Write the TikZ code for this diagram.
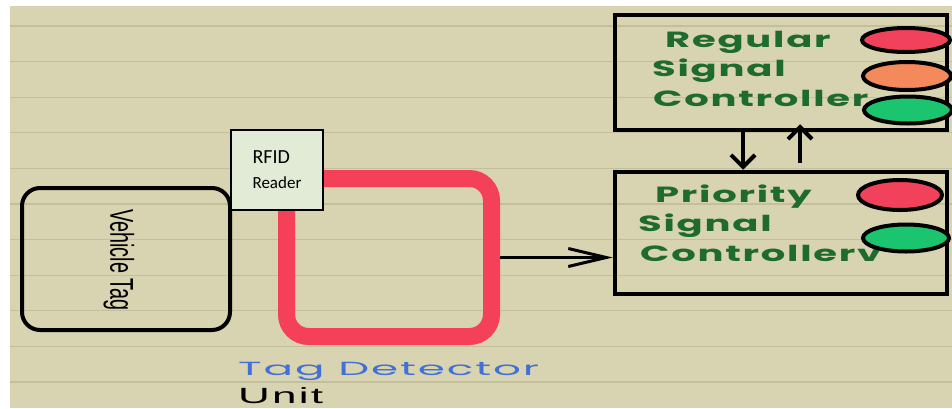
\documentclass[tikz,border=0pt]{standalone}
\usepackage{fontspec}
\usepackage{tikz}
\usetikzlibrary{shapes.geometric, arrows.meta, positioning, calc}
\setmainfont{Liberation Sans}
\newfontfamily\handfont[FakeStretch=1.75,LetterSpace=8]{Poppins}
\newfontfamily\sketchfont[FakeStretch=2.3,LetterSpace=10]{Poppins}
\newfontfamily\narrowfont[FakeStretch=0.6]{Liberation Sans}
\newfontfamily\widefont[FakeStretch=2.0,LetterSpace=10]{Liberation Sans}
\newfontfamily\calfont{Carlito}
\definecolor{paper}{HTML}{D8D3B0}
\definecolor{ruleline}{HTML}{C3BE9B}
\definecolor{loopred}{HTML}{F5405A}
\definecolor{lampred}{HTML}{F2415B}
\definecolor{lamporange}{HTML}{F48A5C}
\definecolor{lampgreen}{HTML}{1BC46F}
\definecolor{signalgreen}{HTML}{1F6B2F}
\definecolor{detblue}{HTML}{4270D6}
\definecolor{readerfill}{HTML}{E2EBD6}

\begin{document}
\begin{tikzpicture}[x=1pt, y=-1pt,
    ctrlbox/.style={draw=black, line width=4.5pt, minimum width=332pt, inner sep=0pt},
    lamp/.style={ellipse, draw=black, line width=4pt, inner sep=0pt},
    signaltext/.style={anchor=base west, inner sep=0pt, text=signalgreen,
      font=\handfont\bfseries\fontsize{22}{24}\selectfont},
    flow/.style={-{Straight Barb[length=12pt,width=24pt]}, line width=4pt}
  ]
    \useasboundingbox (0,0) rectangle (952,408);
    \clip (0,0) rectangle (952,408);
    % Paper with ruled lines
    \fill[white] (0,0) rectangle (952,408);
    \fill[paper] (10,6) rectangle (952,408);
    \foreach \k in {0,...,10} {
      \draw[ruleline, line width=1.2pt] (10,{26+35.6*\k}) -- (952,{26+35.6*\k});
    }
    % Tag side
    \node[draw, line width=4pt, rounded corners=18pt, minimum width=208pt,
      minimum height=142pt] (tagbox) at (126,259) {};
    \node[rotate=-90, inner sep=0pt, font=\narrowfont\fontsize{33}{35}\selectfont]
      (vtag) at (119,260) {Vehicle Tag};
    \node[draw=loopred, line width=17pt, rounded corners=22pt, minimum width=205pt,
      minimum height=158pt] (loop) at (389,257.5) {};
    \node[draw, line width=1.5pt, fill=readerfill, minimum width=92pt, minimum height=80pt,
      align=left, font=\calfont\fontsize{20}{25}\selectfont]
      (rfid) at (277,170) {RFID\\{\fontsize{17}{20}\selectfont Reader}};
    \node[anchor=base west, inner sep=0pt, text=detblue,
      font=\sketchfont\fontsize{19}{22}\selectfont] (detlabel) at (238,375) {Tag Detector};
    \node[anchor=base west, inner sep=0pt, font=\widefont\fontsize{22}{24}\selectfont]
      (unitlabel) at (238,403) {Unit};
    % Controllers
    \node[ctrlbox, minimum height=115pt] (regular) at (781,72.5) {};
    \node[ctrlbox, minimum height=122pt] (prio) at (781,233) {};
    \node[signaltext] (reg1) at (665,47) {Regular};
    \node[signaltext] (reg2) at (652,76) {Signal};
    \node[signaltext] (reg3) at (653,106) {Controller};
    \node[signaltext] (pri1) at (655,202) {Priority};
    \node[signaltext] (pri2) at (638,231) {Signal};
    \node[signaltext] (pri3) at (640,261) {Controllerv};
    % Lamps
    \node[lamp, fill=lampred, minimum width=88pt, minimum height=24pt] (regred) at (906,40) {};
    \node[lamp, fill=lamporange, minimum width=88pt, minimum height=28pt] (regamber) at (907,76) {};
    \node[lamp, fill=lampgreen, minimum width=88pt, minimum height=27pt] (reggreen) at (908,110) {};
    \node[lamp, fill=lampred, minimum width=84pt, minimum height=30pt] (prired) at (900,195) {};
    \node[lamp, fill=lampgreen, minimum width=86pt, minimum height=27pt] (prigreen) at (906,238) {};
    % Connectors
    \draw[line width=3pt, -{Straight Barb[length=38pt,width=18pt]}]
      (loop.east) -- (loop.east -| prio.west);
    \draw[flow] ([xshift=-38pt]regular.south) -- ([xshift=-38pt]prio.north);
    \draw[flow] ([xshift=19pt,yshift=7pt]prio.north) -- ([xshift=19pt,yshift=8pt]regular.south);
  \end{tikzpicture}
\end{document}
